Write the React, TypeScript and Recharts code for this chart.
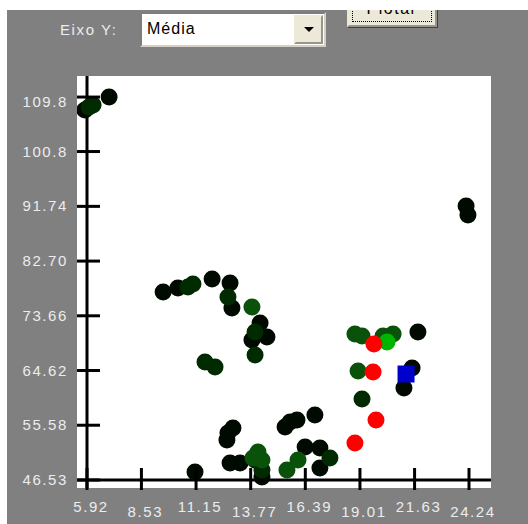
import React from 'react';
import { ScatterChart, Scatter, XAxis, YAxis, ReferenceLine } from 'recharts';

// axis ticks as shown on the screen
const xTicks = [5.92, 8.53, 11.15, 13.77, 16.39, 19.01, 21.63, 24.24];
const xTickLabels = ['5.92', '8.53', '11.15', '13.77', '16.39', '19.01', '21.63', '24.24'];
const yTicks = [46.53, 55.58, 64.62, 73.66, 82.7, 91.74, 100.8, 109.8];
const yTickLabels = ['46.53', '55.58', '64.62', '73.66', '82.70', '91.74', '100.8', '109.8'];

// the white box runs a bit past the first and last ticks
const xDomain = [5.4404, 25.295];
const yDomain = [45.208, 113.28];

const blackPoints = [
  { x: 6.98, y: 109.81 }, { x: 5.82, y: 107.66 },
  { x: 9.57, y: 77.59 }, { x: 10.28, y: 78.25 }, { x: 11.92, y: 79.74 }, { x: 12.78, y: 79.08 },
  { x: 12.87, y: 74.95 }, { x: 14.22, y: 72.47 }, { x: 14.55, y: 70.16 }, { x: 13.83, y: 69.66 },
  { x: 11.1, y: 47.85 }, { x: 12.68, y: 54.3 }, { x: 12.92, y: 55.12 }, { x: 12.63, y: 53.14 },
  { x: 12.78, y: 49.34 }, { x: 13.26, y: 49.34 }, { x: 13.98, y: 49.83 }, { x: 14.31, y: 47.03 },
  { x: 15.42, y: 55.29 }, { x: 15.66, y: 56.11 }, { x: 15.99, y: 56.44 }, { x: 16.85, y: 57.27 },
  { x: 16.38, y: 51.98 }, { x: 17.09, y: 51.82 }, { x: 17.09, y: 48.51 },
  { x: 24.1, y: 91.8 }, { x: 24.19, y: 90.31 },
  { x: 21.79, y: 70.98 }, { x: 21.51, y: 65.03 }, { x: 21.12, y: 61.73 },
];

const darkGreenPoints = [
  { x: 6.02, y: 108.16 }, { x: 6.21, y: 108.49 },
  { x: 10.76, y: 78.42 }, { x: 11.0, y: 78.91 }, { x: 12.68, y: 76.77 },
  { x: 13.98, y: 70.98 }, { x: 13.98, y: 67.18 }, { x: 11.58, y: 66.03 }, { x: 12.06, y: 65.2 },
  { x: 14.31, y: 48.18 }, { x: 17.57, y: 50.16 }, { x: 19.11, y: 59.91 },
];

const greenPoints = [
  { x: 13.83, y: 75.11 }, { x: 14.12, y: 51.16 }, { x: 13.88, y: 50.16 }, { x: 14.31, y: 49.83 },
  { x: 16.04, y: 49.83 }, { x: 15.51, y: 48.18 },
  { x: 18.77, y: 70.65 }, { x: 19.11, y: 70.32 }, { x: 18.92, y: 64.54 },
  { x: 20.12, y: 70.32 }, { x: 20.6, y: 70.65 },
];

const brightGreenPoints = [{ x: 20.31, y: 69.33 }];

const redPoints = [
  { x: 19.68, y: 69.0 }, { x: 19.64, y: 64.37 }, { x: 19.78, y: 56.44 }, { x: 18.77, y: 52.64 },
];

const selectedPoints = [{ x: 21.22, y: 64.04 }];

const labelFont = 'Liberation Sans, Arial, sans-serif';
const labelColor = '#ececec';

const dot = (color: string) => (p: any) => <circle cx={p.cx} cy={p.cy} r={8.5} fill={color} />;
const square = (color: string) => (p: any) => (
  <rect x={p.cx - 8.5} y={p.cy - 8.5} width={17} height={17} fill={color} />
);

function XTick(props: any) {
  const { x, y, index } = props;
  const labelY = index % 2 === 0 ? y + 24 : y + 29;
  return (
    <g>
      <line x1={x} x2={x} y1={y - 20} y2={y + 2} stroke="#000" strokeWidth={3} />
      <text x={x + 4} y={labelY} textAnchor="middle" fill={labelColor}
        fontSize={15} fontFamily={labelFont} letterSpacing={1.6}>
        {xTickLabels[index]}
      </text>
    </g>
  );
}

function YTick(props: any) {
  const { x, y, index } = props;
  const last = index === yTickLabels.length - 1;
  return (
    <g>
      <line x1={x} x2={x + 23} y1={y} y2={y} stroke="#000" strokeWidth={3} />
      <text x={x - 9} y={y + 5 + (last ? 5 : 0)} textAnchor="end" fill={labelColor}
        fontSize={15} fontFamily={labelFont} letterSpacing={1.6}>
        {yTickLabels[index]}
      </text>
    </g>
  );
}

export default function App() {
  return (
    <div style={{ position: 'absolute', left: 0, top: 0, width: 528, height: 524, background: '#fff', overflow: 'hidden' }}>
      <div style={{ position: 'absolute', left: 7, top: 10, width: 521, height: 514, background: '#808080' }} />

      {/* top controls */}
      <div style={{ position: 'absolute', left: 60, top: 21, height: 18, lineHeight: '18px', fontSize: 15, fontFamily: labelFont, color: labelColor, letterSpacing: 1.6 }}>
        Eixo Y:
      </div>
      <div style={{ position: 'absolute', left: 140, top: 12, width: 182, height: 31, background: '#fff', border: '2px inset #d4d0c8' }}>
        <div style={{ position: 'absolute', left: 5, top: 6, lineHeight: '18px', fontSize: 16, fontFamily: labelFont, color: '#000', letterSpacing: 1 }}>
          Média
        </div>
        <div style={{ position: 'absolute', right: 1, top: 1, width: 25, height: 25, background: '#ece9d8', border: '2px outset #ece9d8' }}>
          <div style={{ position: 'absolute', left: 8, top: 10, width: 0, height: 0, borderLeft: '5px solid transparent', borderRight: '5px solid transparent', borderTop: '5px solid #000' }} />
        </div>
      </div>
      <div style={{ position: 'absolute', left: 345, top: 10, width: 95, height: 18, overflow: 'hidden' }}>
        <div style={{ position: 'absolute', left: 2, top: -16, width: 86, height: 29, background: '#ece9d8', border: '2px outset #ece9d8', boxShadow: '1px 1px 0 #404040' }}>
          <div style={{ position: 'absolute', left: 3, top: 3, right: 3, bottom: 3, border: '1px dotted #000' }} />
          <div style={{ position: 'absolute', left: 0, right: 0, top: 4, textAlign: 'center', lineHeight: '18px', fontSize: 16, fontFamily: labelFont, color: '#000', letterSpacing: 1.5 }}>
            Plotar
          </div>
        </div>
      </div>

      {/* plot box */}
      <div style={{ position: 'absolute', left: 77, top: 76, width: 414, height: 412, background: '#fff' }} />

      <div style={{ position: 'absolute', left: 0, top: 0 }}>
        <ScatterChart width={528} height={524} margin={{ top: 76, right: 37, bottom: 6, left: 17 }}>
          <XAxis type="number" dataKey="x" domain={xDomain} ticks={xTicks} allowDataOverflow
            axisLine={false} tickLine={false} tickSize={0} tickMargin={0} height={30}
            tick={<XTick />} interval={0} />
          <YAxis type="number" dataKey="y" domain={yDomain} ticks={yTicks} allowDataOverflow
            axisLine={false} tickLine={false} tickSize={0} tickMargin={0} width={60}
            tick={<YTick />} interval={0} />
          <ReferenceLine x={5.92} stroke="#000" strokeWidth={3} />
          <ReferenceLine y={46.53} stroke="#000" strokeWidth={3} />
          <Scatter data={blackPoints} shape={dot('#000a00')} isAnimationActive={false} />
          <Scatter data={darkGreenPoints} shape={dot('#002a00')} isAnimationActive={false} />
          <Scatter data={greenPoints} shape={dot('#0a520a')} isAnimationActive={false} />
          <Scatter data={brightGreenPoints} shape={dot('#00b400')} isAnimationActive={false} />
          <Scatter data={redPoints} shape={dot('#ff0000')} isAnimationActive={false} />
          <Scatter data={selectedPoints} shape={square('#0000cc')} isAnimationActive={false} />
        </ScatterChart>
      </div>
    </div>
  );
}
